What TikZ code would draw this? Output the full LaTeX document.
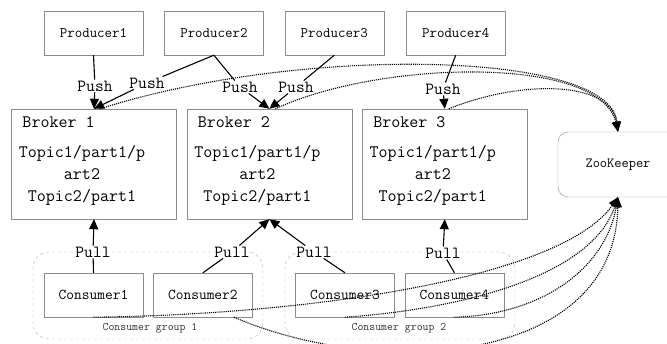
\documentclass[tikz,border=0pt]{standalone}
\usepackage{fontspec}
\usetikzlibrary{positioning,arrows.meta,calc}
\tikzset{
  prodbox/.style={draw=gray!90, minimum width=99pt, minimum height=44pt, inner sep=0pt, font=\ttfamily\fontsize{14.5}{17}\selectfont},
  consbox/.style={prodbox, font=\ttfamily\fontsize{15}{17}\selectfont},
  brokerbox/.style={draw=gray!90, minimum width=165pt, minimum height=110pt, inner sep=0pt},
  btitle/.style={anchor=west, inner sep=0pt, font=\ttfamily\fontsize{17.5}{22}\selectfont},
  bparts/.style={align=center, inner sep=0pt, font=\ttfamily\fontsize{17.5}{22}\selectfont},
  zkbox/.style={draw=gray!90, rounded corners=10pt, minimum width=120pt, minimum height=65pt, font=\ttfamily\fontsize{14}{16}\selectfont},
  groupbox/.style={draw=gray!70, dashed, rounded corners=16pt, minimum width=230pt, minimum height=87pt},
  grouplbl/.style={font=\ttfamily\fontsize{11.5}{13}\selectfont, text=black!80, inner sep=0pt},
  lbl/.style={font=\ttfamily\fontsize{17}{19}\selectfont, inner sep=1pt},
  link/.style={line width=1.1pt},
  arrow/.style={-{Triangle[length=10pt,width=9pt]}, line width=1.1pt},
  zkline/.style={densely dotted, line width=1.1pt, -{Triangle[length=10pt,width=8pt]}}
}
\begin{document}
\begin{tikzpicture}[x=1pt, y=-1pt]
  \path[use as bounding box, clip] (0,0) rectangle (667,344);
  % producers
  \node[prodbox] (p1) at (93.5,33) {Producer1};
  \node[prodbox, right=21pt of p1] (p2) {Producer2};
  \node[prodbox, right=21pt of p2] (p3) {Producer3};
  \node[prodbox, right=22pt of p3] (p4) {Producer4};
  % brokers
  \node[brokerbox] (b1) at (94,164) {};
  \node[brokerbox, right=10pt of b1] (b2) {};
  \node[brokerbox, right=10pt of b2] (b3) {};
  \node[btitle] (b1t) at ($(b1.north west)+(11,13)$) {Broker 1};
  \node[btitle] (b2t) at ($(b2.north west)+(11,13)$) {Broker 2};
  \node[btitle] (b3t) at ($(b3.north west)+(11,13)$) {Broker 3};
  \node[bparts] (b1p) at ($(b1)+(-12,11)$) {Topic1/part1/p\\art2\\Topic2/part1};
  \node[bparts] (b2p) at ($(b2)+(-12,11)$) {Topic1/part1/p\\art2\\Topic2/part1};
  \node[bparts] (b3p) at ($(b3)+(-12,11)$) {Topic1/part1/p\\art2\\Topic2/part1};
  \node[zkbox] (zk) at (618,164.5) {ZooKeeper};
  % consumers and groups
  \node[groupbox] (g1) at (148,295.5) {};
  \node[groupbox] (g2) at (400,295.5) {};
  \node[grouplbl] (g1l) at (150,328) {Consumer group 1};
  \node[grouplbl] (g2l) at (399,328) {Consumer group 2};
  \node[consbox] (c1) at (93.5,295) {Consumer1};
  \node[consbox, right=10pt of c1] (c2) {Consumer2};
  \node[consbox] (c3) at (345,295) {Consumer3};
  \node[consbox, right=10pt of c3] (c4) {Consumer4};
  % push / pull labels
  \node[lbl] (push1) at (95,86) {Push};
  \node[lbl] (push2) at (147,83) {Push};
  \node[lbl] (push3) at (240,87) {Push};
  \node[lbl] (push4) at (296,87) {Push};
  \node[lbl] (push5) at (443,89) {Push};
  \node[lbl] (pull1) at (93,252) {Pull};
  \node[lbl] (pull2) at (232,252) {Pull};
  \node[lbl] (pull3) at (314,252) {Pull};
  \node[lbl] (pull4) at (443,253) {Pull};
  % push
  \draw[link] (p1.south) -- (push1);
  \draw[arrow] (push1) -- (b1.north);
  \draw[link] (p2.south) -- (push2);
  \draw[arrow] (push2) -- (b1.north);
  \draw[link] (p2.south) -- (push3);
  \draw[arrow] (push3) -- (b2.north);
  \draw[link] (p3.south) -- (push4);
  \draw[arrow] (push4) -- (b2.north);
  \draw[link] (p4.south) -- (push5);
  \draw[arrow] (push5) -- (b3.north);
  % pull
  \draw[link] (c1.north) -- (pull1);
  \draw[arrow] (pull1) -- (b1.south);
  \draw[link] (c2.north) -- (pull2);
  \draw[arrow] (pull2) -- (b2.south);
  \draw[link] (c3.north) -- (pull3);
  \draw[arrow] (pull3) -- (b2.south);
  \draw[link] (c4.north) -- (pull4);
  \draw[arrow] (pull4) -- (b3.south);
  % zookeeper links
  \draw[zkline] ($(b1.north)+(6,0)$) .. controls (300,45) and (610,50) .. (zk.north);
  \draw[zkline] ($(b2.north)+(6,0)$) .. controls (380,60) and (600,55) .. (zk.north);
  \draw[zkline] ($(b3.north)+(4,0)$) .. controls (520,80) and (610,80) .. (zk.north);
  \draw[zkline] (c1.south) .. controls (300,315) and (560,280) .. (zk.south);
  \draw[zkline] ($(c2.south)+(31,0)$) .. controls (380,380) and (615,365) .. (zk.south);
  \draw[zkline] (c3.south) .. controls (450,310) and (590,280) .. (zk.south);
  \draw[zkline] (c4.south) .. controls (540,315) and (605,270) .. (zk.south);
\end{tikzpicture}
\end{document}
